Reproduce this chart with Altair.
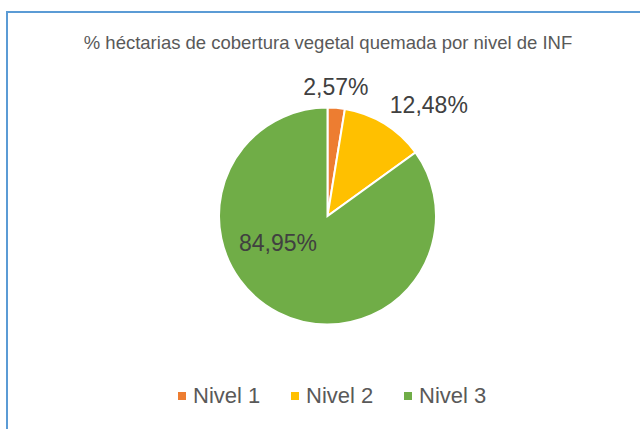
import altair as alt
import pandas as pd

categories = ["Nivel 1", "Nivel 2", "Nivel 3"]
values = [2.57, 12.48, 84.95]
labels = ["2,57%", "12,48%", "84,95%"]
colors = ["#ED7D31", "#FFC000", "#70AD47"]

df = pd.DataFrame({"cat": categories, "value": values, "label": labels})

FONT = "Liberation Sans"
CX, CY = 327.5, 156
R = 108.5

theta = alt.Theta("value:Q", stack=True)
order = alt.Order("cat:N", sort="ascending")

pie = alt.Chart(df).mark_arc(radius=R, stroke="white", strokeWidth=2).encode(
    theta=theta,
    order=order,
    color=alt.Color(
        "cat:N",
        scale=alt.Scale(domain=categories, range=colors),
        legend=alt.Legend(
            title=None,
            orient="none",
            direction="horizontal",
            legendX=171,
            legendY=325,
            symbolType="square",
            symbolSize=64,
            symbolStrokeWidth=0,
            labelFont=FONT,
            labelFontSize=22,
            labelColor="#595959",
            labelOffset=0,
            columnPadding=23,
        ),
    ),
    x=alt.value(CX),
    y=alt.value(CY),
)


def label_layer(cat, radius, dx, dy, size):
    return alt.Chart(df).mark_text(
        radius=radius, dx=dx, dy=dy, font=FONT, fontSize=size, color="#404040",
        align="center", baseline="middle",
    ).encode(
        theta=theta,
        order=order,
        text=alt.condition(alt.datum.cat == cat, "label:N", alt.value("")),
        x=alt.value(CX),
        y=alt.value(CY),
    )


l1 = label_layer("Nivel 1", 128, -2, 0, 23)
l2 = label_layer("Nivel 2", 149, 23, 17, 23)
l3 = label_layer("Nivel 3", 56, -24, -22, 23)

border_top = alt.Chart(df).mark_rule(color="#5B9BD5", strokeWidth=2).encode(
    x=alt.value(7), x2=alt.value(640), y=alt.value(-48)
)
border_left = alt.Chart(df).mark_rule(color="#5B9BD5", strokeWidth=2).encode(
    x=alt.value(7), y=alt.value(-49), y2=alt.value(369)
)

chart = alt.layer(border_top, border_left, pie, l1, l2, l3).properties(
    width=640,
    height=369,
    padding={"left": 0, "top": 60, "right": 0, "bottom": 0},
    autosize=alt.AutoSizeParams(type="none"),
    background="white",
    title=alt.TitleParams(
        "% héctarias de cobertura vegetal quemada por nivel de INF",
        font=FONT,
        fontSize=18.5,
        fontWeight="normal",
        color="#595959",
        anchor="middle",
        frame="group",
        offset=-42,
        dx=8,
    ),
).configure_view(strokeWidth=0, stroke="transparent")

chart.save("out.html", embed_options={"renderer": "svg", "actions": False})
